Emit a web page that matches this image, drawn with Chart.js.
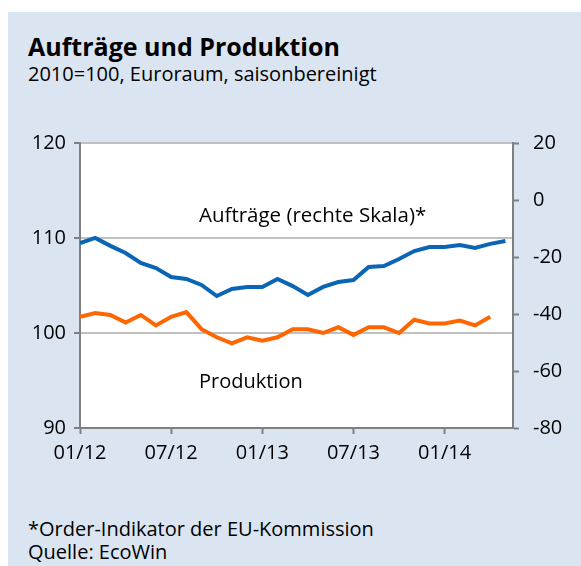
<!DOCTYPE html>
<html><head><meta charset="utf-8">
<script src="https://cdn.jsdelivr.net/npm/chart.js@4/dist/chart.umd.min.js"></script>
<style>
html,body{margin:0;padding:0;background:#fff;}
#wrap{position:relative;width:581px;height:566px;overflow:hidden;}
#panel{position:absolute;left:8px;top:12px;right:0;bottom:0;background:#dbe5f1;}
#c{position:absolute;left:0;top:0;width:581px;height:566px;}
.t{position:absolute;left:28px;font-family:'Open Sans',sans-serif;color:#000;white-space:nowrap;line-height:1;}
</style></head>
<body><div id="wrap"><div id="panel"></div>
<div class="t" style="top:34px;font-size:25px;font-weight:bold;">Aufträge und Produktion</div>
<div class="t" style="top:64px;font-size:20px;">2010=100, Euroraum, saisonbereinigt</div>
<div class="t" style="top:519px;font-size:20px;">*Order-Indikator der EU-Kommission</div>
<div class="t" style="top:542px;font-size:20px;">Quelle: EcoWin</div>
<canvas id="c" width="581" height="566"></canvas>
</div>
<script>
const months = ['01/12','02/12','03/12','04/12','05/12','06/12','07/12','08/12','09/12','10/12','11/12','12/12',
  '01/13','02/13','03/13','04/13','05/13','06/13','07/13','08/13','09/13','10/13','11/13','12/13',
  '01/14','02/14','03/14','04/14','05/14'];
const tickLabels = ['01/12','07/12','01/13','07/13','01/14'];
const auftraege = [-15.1,-13.3,-16.1,-18.6,-22.1,-23.9,-27.0,-27.7,-29.8,-33.7,-31.2,-30.5,-30.5,-27.7,-30.2,-33.3,-30.5,-28.8,-28.1,-23.5,-23.2,-20.7,-17.9,-16.5,-16.5,-15.8,-16.8,-15.4,-14.4];
const produktion = [101.7,102.1,101.9,101.1,101.9,100.8,101.7,102.2,100.4,99.55,98.9,99.55,99.2,99.55,100.4,100.4,100.0,100.6,99.8,100.6,100.6,100.0,101.4,101.0,101.0,101.3,100.8,101.7];
const leftTicks = [90,100,110,120];
const rightTicks = [-80,-60,-40,-20,0,20];

const FONT = "'Open Sans', sans-serif";
const axisGray = '#808080';

const bgPlugin = {
  id:'bg',
  beforeDraw(chart){
    const {ctx, chartArea:a} = chart;
    ctx.save(); ctx.fillStyle='#fff'; ctx.fillRect(a.left,a.top,a.right-a.left,a.bottom-a.top); ctx.restore();
  }
};
const labelPlugin = {
  id:'lbl',
  afterDatasetsDraw(chart){
    const {ctx, scales} = chart;
    ctx.save();
    ctx.font = "20.5px " + FONT;
    ctx.fillStyle = '#000';
    ctx.textBaseline = 'middle';
    ctx.textAlign = 'left';
    ctx.fillText('Aufträge (rechte Skala)*', scales.x.getPixelForValue(7.83), scales.y.getPixelForValue(112.3));
    ctx.font = "20px " + FONT;
    ctx.fillText('Produktion', scales.x.getPixelForValue(7.83), scales.y.getPixelForValue(94.8));
    ctx.restore();
  }
};

function build(){
  new Chart(document.getElementById('c'), {
    type:'line',
    data:{
      datasets:[
        {label:'Produktion', data: produktion.map((v,i)=>({x:i,y:v})), yAxisID:'y', borderColor:'#ff6600', borderWidth:4, pointRadius:0, tension:0, fill:false},
        {label:'Aufträge', data: auftraege.map((v,i)=>({x:i,y:v})), yAxisID:'y2', borderColor:'#0a66b4', borderWidth:4, pointRadius:0, tension:0, fill:false}
      ]
    },
    options:{
      responsive:false, animation:false, devicePixelRatio:1,
      layout:{padding:{top:143,left:0,right:0,bottom:0}},
      plugins:{legend:{display:false}, tooltip:{enabled:false}, title:{display:false}},
      scales:{
        x:{type:'linear', min:0, max:28.5,
          afterBuildTicks:s=>{ s.ticks = tickLabels.map(l=>({value: months.indexOf(l)})); },
          afterFit:s=>{ s.height = 138; },
          ticks:{callback:v=>months[v], font:{family:FONT,size:20}, color:'#000', padding:7, maxRotation:0, autoSkip:false},
          grid:{drawOnChartArea:false, drawTicks:true, tickLength:6, tickColor:axisGray, tickWidth:2},
          border:{display:true, color:axisGray, width:2}
        },
        y:{position:'left', min:90, max:120,
          afterBuildTicks:s=>{ s.ticks = leftTicks.map(v=>({value:v})); },
          afterFit:s=>{ s.width = 80; },
          ticks:{font:{family:FONT,size:20}, color:'#000', padding:8},
          grid:{color:'#c0c0c0', lineWidth:2, tickLength:6, tickColor:axisGray, tickWidth:2},
          border:{display:true, color:axisGray, width:2}
        },
        y2:{position:'right', min:-80, max:20,
          afterBuildTicks:s=>{ s.ticks = rightTicks.map(v=>({value:v})); },
          afterFit:s=>{ s.width = 68; },
          ticks:{font:{family:FONT,size:20}, color:'#000', padding:14},
          grid:{drawOnChartArea:false, tickLength:6, tickColor:axisGray, tickWidth:2},
          border:{display:true, color:axisGray, width:2}
        }
      }
    },
    plugins:[bgPlugin,labelPlugin]
  });
}
if (document.fonts && document.fonts.load) {
  Promise.all([document.fonts.load("20px 'Open Sans'"), document.fonts.load("bold 25px 'Open Sans'")]).then(build, build);
} else build();
</script>
</body></html>
